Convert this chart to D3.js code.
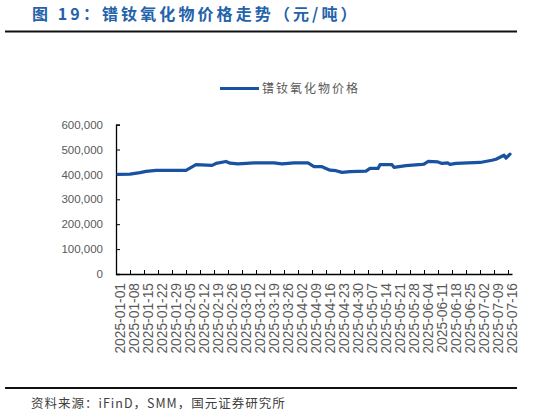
<!DOCTYPE html>
<html>
<head>
<meta charset="utf-8">
<script src="https://cdn.jsdelivr.net/npm/d3@7"></script>
<style>
  body { margin: 0; background: #fff; }
  svg { display: block; }
</style>
</head>
<body>
<div id="chart"></div>
<script>
// PrNd oxide price
let dates = ['2025-01-02', '2025-01-08', '2025-01-13', '2025-01-16', '2025-01-21', '2025-01-27',
  '2025-02-05', '2025-02-10', '2025-02-18', '2025-02-20', '2025-02-25', '2025-02-27',
  '2025-03-03', '2025-03-11', '2025-03-21', '2025-03-25', '2025-03-31', '2025-04-07',
  '2025-04-10', '2025-04-14', '2025-04-18', '2025-04-21', '2025-04-24', '2025-04-28',
  '2025-05-06', '2025-05-08', '2025-05-12', '2025-05-13', '2025-05-19', '2025-05-20',
  '2025-05-26', '2025-06-03', '2025-06-04', '2025-06-06', '2025-06-11', '2025-06-13',
  '2025-06-16', '2025-06-17', '2025-06-20', '2025-07-02', '2025-07-08', '2025-07-10',
  '2025-07-14', '2025-07-15', '2025-07-17']
let prices = [400000, 401000, 407000, 412000, 416000, 416000,
  416000, 439000, 436000, 444000, 452000, 445000,
  442000, 446000, 446000, 442000, 446000, 446000,
  431000, 431000, 417000, 415000, 408000, 411000,
  413000, 424000, 424000, 439000, 439000, 428000,
  435000, 440000, 441000, 452000, 450000, 444000,
  446000, 440000, 444000, 448000, 457000, 461000,
  477000, 465000, 481000]
let yTicks = [0, 100000, 200000, 300000, 400000, 500000, 600000]
let tickDates = d3.timeDay.range(new Date(2025, 0, 1), new Date(2025, 6, 17), 7)

let title = '图 19：镨钕氧化物价格走势（元/吨）'
let seriesName = '镨钕氧化物价格'
let source = '资料来源：iFinD，SMM，国元证券研究所'

let width = 533
let height = 418
let lineColor = '#1852a1'
let labelColor = '#595959'

let svg = d3
  .select('#chart')
  .append('svg')
  .attr('width', width)
  .attr('height', height)

let parse = d3.timeParse('%Y-%m-%d')
let data = dates.map((d, i) => ({ date: parse(d), value: prices[i] }))

let x = d3
  .scaleTime()
  .domain([new Date(2025, 0, 1), new Date(2025, 6, 18)])
  .range([116, 512])

let y = d3.scaleLinear().domain([0, 600000]).range([274, 124.6])

// title and rules
svg
  .append('text')
  .attr('x', 32)
  .attr('y', 20)
  .text(title)
  .attr('fill', '#2462aa')
  .attr('font-family', 'Noto Sans CJK SC')
  .attr('font-weight', 'bold')
  .attr('font-size', 16)
  .attr('letter-spacing', 3.1)

svg.append('rect').attr('x', 5).attr('y', 30.5).attr('width', 512).attr('height', 2).attr('fill', '#111')
svg.append('rect').attr('x', 5).attr('y', 387).attr('width', 512).attr('height', 2).attr('fill', '#111')

svg
  .append('text')
  .attr('x', 31)
  .attr('y', 408)
  .text(source)
  .attr('fill', '#404040')
  .attr('font-family', 'Noto Sans CJK SC')
  .attr('font-size', 12.5)
  .attr('letter-spacing', 1)

// legend
svg
  .append('line')
  .attr('x1', 220)
  .attr('x2', 259)
  .attr('y1', 88.5)
  .attr('y2', 88.5)
  .attr('stroke', lineColor)
  .attr('stroke-width', 3)

svg
  .append('text')
  .attr('x', 262)
  .attr('y', 88.5)
  .attr('dy', '0.35em')
  .text(seriesName)
  .attr('fill', labelColor)
  .attr('font-family', 'Noto Sans CJK SC')
  .attr('font-size', 12)
  .attr('letter-spacing', 2)

// y axis
let yAxis = svg
  .append('g')
  .attr('transform', 'translate(116,0)')
  .call(
    d3
      .axisLeft(y)
      .tickValues(yTicks)
      .tickSize(-4)
      .tickPadding(13)
      .tickFormat(d3.format(','))
  )
yAxis.select('.domain').attr('stroke', '#000').attr('stroke-width', 1.3)
yAxis.selectAll('.tick line').attr('stroke', '#000')
yAxis
  .selectAll('.tick text')
  .attr('fill', labelColor)
  .attr('font-family', 'Liberation Sans')
  .attr('font-size', 11.5)

// x axis
let xAxis = svg
  .append('g')
  .attr('transform', 'translate(0,274)')
  .call(
    d3
      .axisBottom(x)
      .tickValues(tickDates)
      .tickSize(-4)
      .tickSizeOuter(0)
      .tickFormat('')
  )
xAxis.select('.domain').attr('stroke', '#000').attr('stroke-width', 1.3)
xAxis.selectAll('.tick line').attr('stroke', '#000')

let fmt = d3.timeFormat('%Y-%m-%d')
svg
  .append('g')
  .selectAll('text')
  .data(tickDates)
  .join('text')
  .attr('transform', d => `translate(${x(d) + 4},283) rotate(-90)`)
  .attr('dy', '0.35em')
  .attr('text-anchor', 'end')
  .text(d => fmt(d))
  .attr('fill', labelColor)
  .attr('font-family', 'Liberation Sans')
  .attr('font-size', 13.8)

// price line
let line = d3
  .line()
  .x(d => x(d.date))
  .y(d => y(d.value))
  .curve(d3.curveLinear)

svg
  .append('path')
  .datum(data)
  .attr('d', line)
  .attr('fill', 'none')
  .attr('stroke', lineColor)
  .attr('stroke-width', 3.2)
  .attr('stroke-linejoin', 'round')
  .attr('stroke-linecap', 'round')
</script>
</body>
</html>
